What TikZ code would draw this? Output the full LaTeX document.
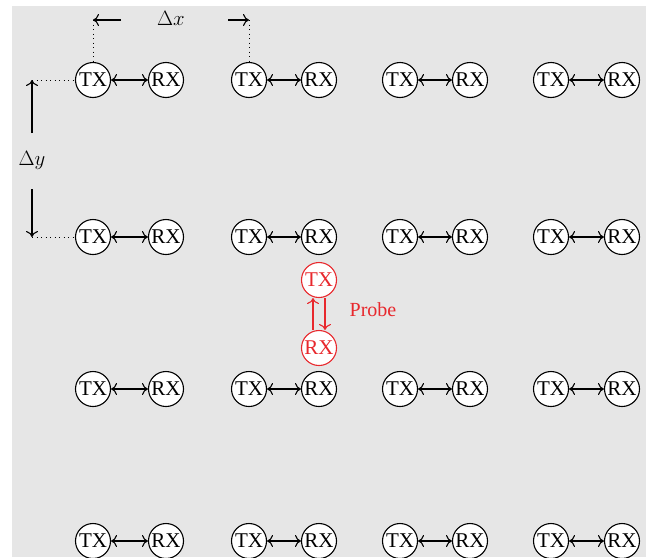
\documentclass[tikz,border=0pt]{standalone}
\usepackage{fontspec}
\setmainfont{Liberation Serif}
\usetikzlibrary{arrows.meta}
\definecolor{bg}{RGB}{230,230,230}
\definecolor{probered}{RGB}{232,40,45}
\begin{document}
\begin{tikzpicture}[x=1pt,y=-1pt,
  unit/.style={circle,draw,fill=white,line width=1.1pt,minimum size=35pt,inner sep=0pt,font=\fontsize{21}{23}\selectfont},
  link/.style={line width=1.1pt,{To[length=6pt,width=12pt]}-{To[length=6pt,width=12pt]}},
  dim/.style={line width=1.1pt,-{To[length=6pt,width=12pt]}},
  dots/.style={line width=1pt,dash pattern=on 1pt off 3.5pt},
  lbl/.style={font=\fontsize{21}{23}\selectfont}]
\useasboundingbox (0,0) rectangle (663,557);
\fill[bg] (12,6) rectangle (646,557);
% grid
\foreach \r/\y in {1/80,2/237,3/389,4/541}{
  \foreach \c/\tx/\rx in {1/93/166,2/249/319,3/400/470,4/551/622}{
    \node[unit] (t\r\c) at (\tx,\y) {TX};
    \node[unit] (r\r\c) at (\rx,\y) {RX};
    \draw[link] (t\r\c) -- (r\r\c);
  }
}
% probe
\node[unit,draw=probered,text=probered] (pt) at (319,280) {TX};
\node[unit,draw=probered,text=probered] (pr) at (319,348) {RX};
\draw[dim,probered] ([xshift=-6pt]pr.north) -- ([xshift=-6pt]pt.south);
\draw[dim,probered] ([xshift=6pt]pt.south) -- ([xshift=6pt]pr.north);
\node[font=\fontsize{20}{22}\selectfont,text=probered] (plbl) at (373,310) {Probe};
% delta x
\node[lbl] (dx) at (171,18) {$\Delta x$};
\coordinate (dxl) at (93,20);
\coordinate (dxr) at (249,20);
\coordinate (dxls) at (121,20);
\coordinate (dxrs) at (228,20);
\draw[dim] (dxls) -- (dxl);
\draw[dim] (dxrs) -- (dxr);
\draw[dots] (dxl) -- (t11.north);
\draw[dots] (dxr) -- (t12.north);
% delta y
\node[lbl] (dy) at (32,160) {$\Delta y$};
\coordinate (dyt) at (32,80);
\coordinate (dyb) at (32,237);
\coordinate (dyts) at (32,133);
\coordinate (dybs) at (32,189);
\draw[dim] (dyts) -- (dyt);
\draw[dim] (dybs) -- (dyb);
\draw[dots] (dyt) -- (t11.west);
\draw[dots] (dyb) -- (t21.west);
\end{tikzpicture}
\end{document}
